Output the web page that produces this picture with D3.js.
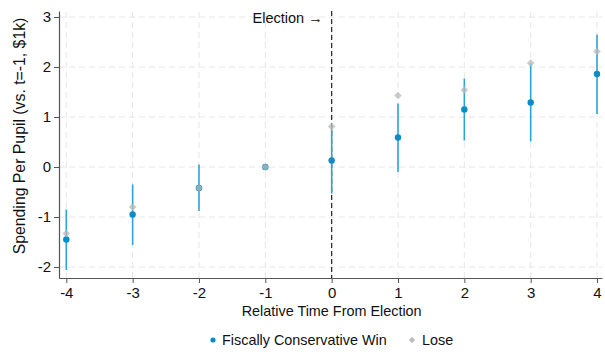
<!DOCTYPE html>
<html>
<head>
<meta charset="utf-8">
<script src="https://cdn.jsdelivr.net/npm/d3@7"></script>
<style>
  body { margin: 0; background: #fff; }
  text { font-family: "Liberation Sans", Arial, sans-serif; fill: #111; }
</style>
</head>
<body>
<script>
// relative years from the election
var years = [-4, -3, -2, -1, 0, 1, 2, 3, 4];

// fiscally conservative win: estimate and 95% interval
var winValues = [-1.45, -0.95, -0.42, 0, 0.13, 0.59, 1.15, 1.29, 1.86];
var winLow    = [-2.06, -1.56, -0.88, 0, -0.53, -0.10, 0.53, 0.51, 1.06];
var winHigh   = [-0.85, -0.35, 0.05, 0, 0.81, 1.27, 1.77, 2.07, 2.65];

// lose: estimate only
var loseValues = [-1.33, -0.80, -0.42, 0, 0.81, 1.43, 1.54, 2.08, 2.31];

var yTicks = [-2, -1, 0, 1, 2, 3];

var width = 605,
    height = 355,
    margin = { top: 11, right: 3, bottom: 77, left: 59 };

var svg = d3.select('body')
    .append('svg')
    .attr('width', width)
    .attr('height', height)

var xScale = d3.scaleLinear()
    .domain([-4.11, 4.075])
    .range([margin.left, width - margin.right])
var yScale = d3.scaleLinear()
    .domain([-2.22, 3.12])
    .range([height - margin.bottom, margin.top])

// grid
var grid = svg.append('g')
    .attr('stroke', '#e6e6e6')
    .attr('stroke-dasharray', '6,4')
    .attr('stroke-width', 1)
grid.selectAll('.gx').data(years).enter().append('line')
    .attr('x1', d => xScale(d)).attr('x2', d => xScale(d))
    .attr('y1', yScale.range()[0]).attr('y2', yScale.range()[1])
grid.selectAll('.gy').data(yTicks).enter().append('line')
    .attr('y1', d => yScale(d)).attr('y2', d => yScale(d))
    .attr('x1', xScale.range()[0]).attr('x2', xScale.range()[1])

// axes (plain hyphen minus like the original)
var fmt = d => String(d)
var xAxis = d3.axisBottom(xScale)
    .tickValues(years)
    .tickFormat(fmt)
    .tickSizeInner(5)
    .tickSizeOuter(0)
    .tickPadding(4)
var yAxis = d3.axisLeft(yScale)
    .tickValues(yTicks)
    .tickFormat(fmt)
    .tickSizeInner(5)
    .tickSizeOuter(0)
    .tickPadding(3)

var gx = svg.append('g')
    .attr('transform', `translate(0, ${yScale.range()[0]})`)
    .call(xAxis)
var gy = svg.append('g')
    .attr('transform', `translate(${margin.left}, 0)`)
    .call(yAxis)
;[gx, gy].forEach(g => {
    g.select('.domain').attr('stroke', '#555').attr('stroke-width', 1.2)
    g.selectAll('.tick line').attr('stroke', '#555')
    g.selectAll('.tick text').attr('font-size', 15).attr('fill', '#111')
        .attr('font-family', '"Liberation Sans", Arial, sans-serif')
})

// election marker
svg.append('line')
    .attr('x1', xScale(0)).attr('x2', xScale(0))
    .attr('y1', yScale.range()[1]).attr('y2', yScale.range()[0])
    .attr('stroke', '#222')
    .attr('stroke-width', 1.2)
    .attr('stroke-dasharray', '5,3')
svg.append('text')
    .attr('x', xScale(0) - 9)
    .attr('y', 23)
    .attr('text-anchor', 'end')
    .attr('font-size', 14.5)
    .text('Election \u2192')

// intervals
svg.selectAll('.ci').data(years).enter().append('line')
    .attr('x1', d => xScale(d)).attr('x2', d => xScale(d))
    .attr('y1', (d, i) => yScale(winLow[i]))
    .attr('y2', (d, i) => yScale(winHigh[i]))
    .attr('stroke', '#2ea3d6')
    .attr('stroke-width', 1.6)

// win points
svg.selectAll('.win').data(years).enter().append('circle')
    .attr('cx', d => xScale(d))
    .attr('cy', (d, i) => yScale(winValues[i]))
    .attr('r', 3.2)
    .attr('fill', '#0a8cc4')

// lose points (square turned 45 degrees)
var diamond = d3.symbol().type(d3.symbolSquare).size(30)
svg.selectAll('.lose').data(years).enter().append('path')
    .attr('d', diamond)
    .attr('transform', (d, i) => `translate(${xScale(d)}, ${yScale(loseValues[i])}) rotate(45)`)
    .attr('fill', '#b9b9b9')
    .attr('opacity', 0.75)

// titles
svg.append('text')
    .attr('transform', `translate(24.5, 136) rotate(-90)`)
    .attr('text-anchor', 'middle')
    .attr('font-size', 15.8)
    .text('Spending Per Pupil (vs. t=-1, $1k)')
svg.append('text')
    .attr('x', xScale(0))
    .attr('y', 316)
    .attr('text-anchor', 'middle')
    .attr('font-size', 14.4)
    .text('Relative Time From Election')

// legend
var legend = svg.append('g')
legend.append('circle')
    .attr('cx', 213).attr('cy', 340).attr('r', 2.6)
    .attr('fill', '#0a8cc4')
legend.append('text')
    .attr('x', 222).attr('y', 345)
    .attr('font-size', 14.4)
    .text('Fiscally Conservative Win')
legend.append('path')
    .attr('d', d3.symbol().type(d3.symbolSquare).size(20))
    .attr('transform', 'translate(412, 340) rotate(45)')
    .attr('fill', '#bdbdbd')
legend.append('text')
    .attr('x', 422).attr('y', 345)
    .attr('font-size', 14.4)
    .text('Lose')
</script>
</body>
</html>
